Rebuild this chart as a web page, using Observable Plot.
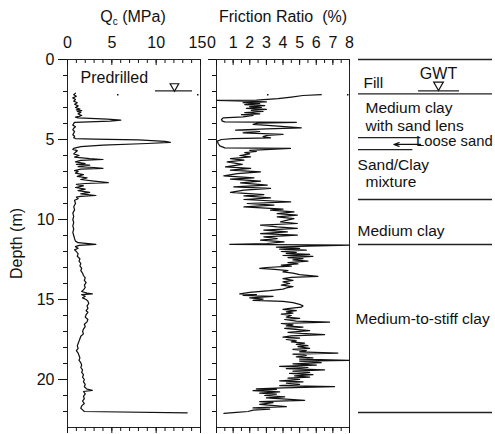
<!DOCTYPE html>
<html><head><meta charset="utf-8">
<script src="https://cdn.jsdelivr.net/npm/d3@7"></script>
<script src="https://cdn.jsdelivr.net/npm/@observablehq/plot@0.6"></script>
<style>
body{margin:0;background:#fff;font-family:"Liberation Sans",Arial,Helvetica,sans-serif;}
#chart{position:relative;width:495px;height:434px;}
#chart svg{position:absolute;left:0;top:0;overflow:visible;background:transparent;}
.title{position:absolute;font-size:16px;color:#111;white-space:pre;transform:translate(-50%,-50%);line-height:1;}
.title sub{font-size:10px;vertical-align:-3px;line-height:0;}
</style></head><body>
<div id="chart">
  <div class="title" style="left:133px;top:17px">Q<sub>c</sub> (MPa)</div>
  <div class="title" style="left:283px;top:17px">Friction Ratio  (%)</div>
</div>
<script>
// ---- data: [depth (m), value] ----
const qcProfile = [
[2.10,0.9],[2.2,0.7],[2.3,1.0],[2.4,0.6],[2.5,0.9],[2.6,0.7],[2.7,1.1],[2.8,0.8],[2.9,1.2],[3.0,0.9],
[3.1,1.4],[3.15,1.0],[3.2,1.6],[3.25,1.1],[3.3,1.5],[3.4,1.2],[3.5,1.6],[3.55,1.3],[3.6,0.9],
[3.65,1.2],[3.72,4.5],[3.79,6.0],[3.85,4.8],[3.93,0.8],[4.0,0.7],[4.1,0.6],[4.2,0.9],[4.3,0.7],[4.4,0.6],
[4.5,0.8],[4.6,0.7],[4.7,0.6],[4.8,0.8],[4.88,0.7],[4.94,0.9],[4.98,3.0],[5.03,8.0],[5.12,11.0],[5.18,11.6],
[5.25,9.0],[5.35,4.0],[5.45,1.5],[5.55,0.7],[5.62,0.6],[5.7,1.1],[5.8,0.9],[5.9,0.7],[6.0,1.3],[6.1,0.8],
[6.2,2.5],[6.25,4.0],[6.3,1.5],[6.4,0.9],[6.5,2.0],[6.55,1.0],[6.6,2.5],[6.7,1.2],[6.75,3.0],[6.8,4.0],
[6.85,1.5],[6.95,0.8],[7.0,1.2],[7.1,0.9],[7.2,1.8],[7.3,1.1],[7.4,2.2],[7.5,1.5],[7.6,3.0],[7.7,4.6],
[7.75,2.0],[7.8,1.0],[7.9,1.8],[8.0,0.9],[8.1,2.0],[8.2,1.2],[8.3,2.5],[8.4,1.5],[8.5,3.2],[8.55,1.5],
[8.6,1.0],[8.7,1.2],[8.8,0.8],[9.0,0.9],[9.2,0.7],[9.4,0.8],[9.6,0.6],[9.8,0.7],[10.0,0.6],[10.2,0.7],
[10.4,0.6],[10.6,0.7],[10.8,0.6],[11.0,0.7],[11.2,0.8],[11.35,0.9],[11.45,1.2],[11.55,3.2],[11.62,1.3],
[11.7,0.9],[11.8,1.2],[11.9,0.8],[12.0,1.0],[12.15,1.2],[12.3,1.1],[12.45,1.4],[12.6,1.3],[12.75,1.5],
[12.9,1.4],[13.05,1.6],[13.2,1.5],[13.35,1.7],[13.5,1.8],[13.65,2.0],[13.8,1.9],[13.95,2.1],[14.1,1.9],
[14.25,2.0],[14.4,1.8],[14.5,1.6],[14.6,2.2],[14.65,2.8],[14.7,1.6],[14.8,2.0],[14.9,1.7],[15.0,2.1],
[15.1,2.3],[15.25,2.4],[15.4,2.2],[15.55,2.3],[15.7,2.1],[15.8,2.3],[15.95,2.1],[16.1,2.0],[16.25,2.3],
[16.4,2.2],[16.55,1.9],[16.7,2.0],[16.85,1.8],[17.0,1.7],[17.15,1.8],[17.3,1.5],[17.45,1.4],[17.6,1.3],
[17.75,1.2],[17.9,1.1],[18.05,1.2],[18.2,1.0],[18.35,1.2],[18.5,1.3],[18.65,1.4],[18.8,1.3],[18.95,1.5],
[19.1,1.6],[19.25,1.5],[19.4,1.7],[19.55,1.6],[19.7,1.8],[19.85,1.7],[20.0,1.9],[20.15,1.8],[20.3,2.0],
[20.45,1.9],[20.6,2.2],[20.68,2.8],[20.75,1.8],[20.9,2.0],[21.05,1.8],[21.2,1.9],[21.35,1.7],[21.5,1.9],
[21.65,1.6],[21.8,1.5],[21.9,1.7],[22.0,1.9],[22.08,13.5]
];
const frictionProfile = [
[2.2,6.3],[2.25,5.2],[2.35,4.5],[2.45,3.7],[2.54,2.4],[2.56,0.0],[2.6,1.8],[2.65,3.0],[2.7,1.6],[2.76,2.6],
[2.82,1.7],[2.88,2.9],[2.95,2.0],[3.0,2.7],[3.06,1.8],[3.12,3.0],[3.18,2.1],[3.25,2.8],[3.32,1.7],[3.4,2.6],
[3.45,1.5],[3.5,2.2],[3.58,1.6],[3.65,0.4],[3.75,0.3],[3.85,0.35],[3.9,0.5],[3.93,4.8],[3.98,2.5],[4.05,2.2],
[4.15,3.5],[4.27,5.1],[4.33,3.0],[4.42,1.15],[4.5,2.6],[4.58,1.6],[4.68,4.0],[4.75,3.0],[4.82,2.8],[4.9,3.25],
[4.95,1.0],[5.0,0.3],[5.1,0.05],[5.25,0.1],[5.4,0.2],[5.52,0.5],[5.56,4.45],[5.62,3.25],[5.68,2.0],[5.75,2.4],
[5.82,1.7],[5.9,2.0],[6.0,1.4],[6.08,2.05],[6.19,0.84],[6.29,1.65],[6.4,0.64],[6.56,1.55],[6.71,0.54],
[6.81,2.05],[6.92,0.84],[7.02,2.65],[7.13,1.25],[7.27,0.44],[7.4,2.25],[7.48,0.84],[7.6,2.65],[7.71,1.45],
[7.85,3.05],[7.96,1.04],[8.06,3.25],[8.17,1.65],[8.31,0.84],[8.44,2.85],[8.52,1.65],[8.65,3.25],[8.75,1.65],
[8.9,4.46],[9.0,1.85],[9.1,3.45],[9.21,1.65],[9.35,4.0],[9.42,3.25],[9.52,4.66],[9.63,3.65],[9.73,4.86],
[9.83,3.65],[9.94,4.66],[10.04,4.26],[10.15,3.85],[10.25,4.86],[10.35,2.65],[10.46,3.65],[10.56,4.86],
[10.67,2.85],[10.77,4.26],[10.88,2.65],[10.98,4.86],[11.08,2.85],[11.19,3.65],[11.29,2.65],[11.4,4.06],
[11.5,3.05],[11.55,0.8],[11.6,8.0],[11.66,5.5],[11.72,3.6],[11.8,5.0],[11.85,3.8],[11.92,5.4],[12.0,3.9],
[12.05,4.8],[12.12,4.2],[12.18,5.6],[12.25,4.0],[12.3,5.8],[12.38,4.3],[12.45,5.2],[12.52,4.6],[12.6,5.5],
[12.7,4.3],[12.78,4.9],[12.85,3.9],[12.92,4.5],[13.0,3.0],[13.05,2.6],[13.12,3.5],[13.2,4.3],[13.28,4.0],
[13.35,4.6],[13.45,5.0],[13.55,6.1],[13.62,4.5],[13.7,4.0],[13.8,4.6],[13.9,4.0],[14.0,4.4],[14.1,3.9],
[14.2,4.6],[14.28,4.2],[14.35,4.0],[14.45,3.2],[14.55,2.0],[14.65,1.4],[14.7,2.4],[14.75,1.6],[14.8,3.4],
[14.9,2.0],[14.97,2.8],[15.05,2.2],[15.12,4.0],[15.2,4.6],[15.3,5.0],[15.4,5.2],[15.48,5.1],[15.55,4.4],
[15.62,4.0],[15.7,4.8],[15.78,4.2],[15.85,4.6],[15.92,3.9],[16.0,4.5],[16.1,4.2],[16.18,5.0],[16.25,4.1],
[16.35,4.8],[16.42,6.8],[16.5,3.9],[16.58,4.6],[16.65,4.2],[16.72,5.2],[16.8,4.1],[16.88,4.9],[16.95,5.6],
[17.05,4.3],[17.12,5.1],[17.2,6.5],[17.28,4.5],[17.35,4.0],[17.42,5.0],[17.5,4.2],[17.58,4.8],[17.65,4.5],
[17.72,5.3],[17.8,4.8],[17.88,5.5],[17.95,4.9],[18.05,5.6],[18.12,4.6],[18.2,5.4],[18.28,5.0],[18.35,7.3],
[18.42,4.6],[18.5,5.4],[18.58,4.8],[18.65,5.8],[18.72,5.0],[18.8,8.0],[18.85,5.0],[18.95,6.3],[19.02,4.6],
[19.1,6.0],[19.18,3.8],[19.25,5.5],[19.32,4.2],[19.4,6.5],[19.48,4.6],[19.55,5.6],[19.62,4.4],[19.7,5.8],
[19.78,4.7],[19.85,5.6],[19.92,4.3],[20.0,5.0],[20.08,3.8],[20.15,5.2],[20.22,4.2],[20.3,5.0],[20.38,3.8],
[20.45,7.1],[20.52,4.0],[20.58,2.4],[20.62,3.6],[20.7,2.2],[20.78,3.8],[20.85,2.6],[20.92,3.6],[21.0,2.9],
[21.08,4.1],[21.15,3.0],[21.22,4.2],[21.3,5.3],[21.38,2.6],[21.45,3.4],[21.55,2.6],[21.62,3.3],[21.7,4.2],
[21.78,2.2],[21.85,3.2],[21.92,2.2],[22.0,1.9],[22.05,1.2],[22.12,0.45]
];
const qcMajorTicks = [0, 5, 10];
const qcEndTick = [15];
const qcAllMajorTicks = [0, 5, 10, 15];
const qcMinorTicks = [0,1,2,3,4,5,6,7,8,9,10,11,12,13,14,15];
const frLabelTicks = [1, 2, 3, 4, 5, 6, 7, 8];
const frZeroTick = [0];
const frMajorTicks = [0,1,2,3,4,5,6,7,8];
const frMinorTicks = [0,0.5,1,1.5,2,2.5,3,3.5,4,4.5,5,5.5,6,6.5,7,7.5,8];
const depthMajorTicks = [0, 5, 10, 15, 20];
const depthMinorTicks = [0,1,2,3,4,5,6,7,8,9,10,11,12,13,14,15,16,17,18,19,20,21,22];
const depthDomain = [0, 23];
const gwtDepth = 1.96;
const gwtMarkDepth = 2.21;
const layerBoundaries = [0, 2.15, 8.75, 11.56, 22.06];
const lensBoundaries = [4.88, 5.63];
const soilNames = ["Fill", "Medium clay", "with sand lens", "Sand/Clay", "mixture", "Medium clay", "Medium-to-stiff clay"];
const soilLabelDepths = [1.44, 3.06, 4.13, 6.62, 7.67, 10.73, 16.19];
const looseSandLabel = ["Loose sand"];
const looseSandLabelDepth = 5.1;
const looseSandDepth = 5.31;

const FONT = '"Liberation Sans", Arial, Helvetica, sans-serif';
const INK = "#111";
const FS = 16;
const common = {
  width: 495, height: 434, marginTop: 59, marginBottom: 7,
  style: {background: "transparent", overflow: "visible", fontFamily: FONT, fontSize: "16px", color: INK}
};
const yScale = {domain: depthDomain, reverse: true};
const blank = () => "";

const left = Plot.plot({
  ...common, marginLeft: 67, marginRight: 295,
  x: {domain: [0, 15]}, y: yScale,
  marks: [
    Plot.frame({stroke: "#222"}),
    Plot.axisX({anchor: "top", ticks: qcMajorTicks, tickSize: 0, tickPadding: 12, label: null, fontSize: FS}),
    Plot.axisX({anchor: "top", ticks: qcEndTick, tickSize: 0, tickPadding: 12, label: null, fontSize: FS, dx: -3}),
    Plot.axisX({anchor: "top", ticks: qcAllMajorTicks, tickSize: -5, tickFormat: blank, label: null}),
    Plot.axisX({anchor: "top", ticks: qcMinorTicks, tickSize: -3, tickFormat: blank, label: null}),
    Plot.axisX({anchor: "bottom", ticks: qcAllMajorTicks, tickSize: 6, tickFormat: blank, label: null}),
    Plot.axisX({anchor: "bottom", ticks: qcMinorTicks, tickSize: 4, tickFormat: blank, label: null}),
    Plot.axisY({anchor: "left", ticks: depthMajorTicks, tickSize: 9, tickPadding: 4, fontSize: FS,
      label: "Depth (m)", labelAnchor: "center", labelOffset: 57, labelArrow: "none"}),
    Plot.axisY({anchor: "left", ticks: depthMinorTicks, tickSize: 4, tickFormat: blank, label: null}),
    Plot.ruleY([gwtMarkDepth], {stroke: INK, strokeWidth: 1.5, strokeDasharray: "1.5,78.5", strokeDashoffset: 30}),
    Plot.text(["Predrilled"], {x: 1.47, y: 1.16, text: d => d, textAnchor: "start", fontSize: FS, fill: INK}),
    Plot.ruleY([gwtDepth], {x1: 9.92, x2: 14.1, stroke: "#222", strokeWidth: 1.3}),
    Plot.dot([gwtDepth], {x: 12.06, y: d => d - 0.29, symbol: "triangle", rotate: 180, r: 3.2, stroke: INK, strokeWidth: 1.2, fill: "none"}),
    Plot.line(qcProfile, {x: d => d[1], y: d => d[0], stroke: INK, strokeWidth: 1.25})
  ]
});

const right = Plot.plot({
  ...common, marginLeft: 216, marginRight: 146,
  x: {domain: [0, 8]}, y: yScale,
  marks: [
    Plot.frame({stroke: "#222"}),
    Plot.axisX({anchor: "top", ticks: frLabelTicks, tickSize: 0, tickPadding: 12, label: null, fontSize: FS}),
    Plot.axisX({anchor: "top", ticks: frZeroTick, tickSize: 0, tickPadding: 12, label: null, fontSize: FS, dx: -5}),
    Plot.axisX({anchor: "top", ticks: frMajorTicks, tickSize: -5, tickFormat: blank, label: null}),
    Plot.axisX({anchor: "top", ticks: frMinorTicks, tickSize: -3, tickFormat: blank, label: null}),
    Plot.axisX({anchor: "bottom", ticks: frMajorTicks, tickSize: 6, tickFormat: blank, label: null}),
    Plot.axisX({anchor: "bottom", ticks: frMinorTicks, tickSize: 4, tickFormat: blank, label: null}),
    Plot.axisY({anchor: "left", ticks: depthMajorTicks, tickSize: 8, tickFormat: blank, label: null}),
    Plot.axisY({anchor: "left", ticks: depthMinorTicks, tickSize: 4, tickFormat: blank, label: null}),
    Plot.ruleY([gwtMarkDepth], {stroke: INK, strokeWidth: 1.5, strokeDasharray: "1.5,78.5", strokeDashoffset: 29}),
    Plot.line(frictionProfile, {x: d => d[1], y: d => d[0], stroke: INK, strokeWidth: 1.25})
  ]
});

const soilX = [0.037, 0.052, 0.052, -0.007, 0.052, -0.007, -0.022];
const soil = Plot.plot({
  ...common, marginLeft: 358, marginRight: 3,
  x: {domain: [0, 1], axis: null}, y: {...yScale, axis: null},
  marks: [
    Plot.ruleY(layerBoundaries, {y: d => d, x1: 0, x2: 1, stroke: "#222", strokeWidth: 1.4}),
    Plot.ruleY(lensBoundaries, {y: d => d, x1: 0, x2: (d, i) => i === 0 ? 0.466 : 0.406, stroke: "#222", strokeWidth: 1.4}),
    Plot.ruleY([gwtDepth], {x1: 0.448, x2: 0.754, stroke: "#222", strokeWidth: 1.4}),
    Plot.dot([gwtDepth], {x: 0.597, y: d => d - 0.37, symbol: "triangle", rotate: 180, r: 3.6, stroke: INK, strokeWidth: 1.2, fill: "none"}),
    Plot.text(["GWT"], {x: 0.597, y: 0.875, text: d => d, fontSize: FS, fill: INK}),
    Plot.text(soilNames, {x: (d, i) => soilX[i], y: (d, i) => soilLabelDepths[i], text: d => d, textAnchor: "start", fontSize: 15.5, fill: INK}),
    Plot.text(looseSandLabel, {x: 0.43, y: looseSandLabelDepth, text: d => d, textAnchor: "start", fontSize: 14.8, fill: INK}),
    Plot.arrow([looseSandDepth], {x1: 0.463, x2: 0.264, y1: d => d, y2: d => d, stroke: INK, strokeWidth: 1.2, headLength: 7, headAngle: 40})
  ]
});

const chart = document.getElementById("chart");
chart.prepend(soil);
chart.prepend(right);
chart.prepend(left);
</script></body></html>
